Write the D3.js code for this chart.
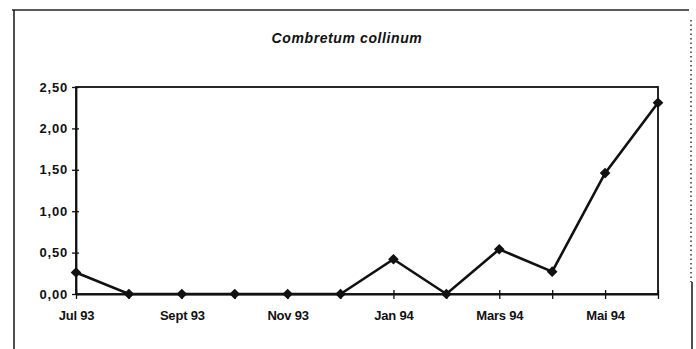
<!DOCTYPE html>
<html>
<head>
<meta charset="utf-8">
<script src="https://cdn.jsdelivr.net/npm/d3@7"></script>
<style>
  body { margin: 0; background: #fff; }
  text { font-family: "Liberation Sans", Arial, sans-serif; fill: #111; }
</style>
</head>
<body>
<div id="plot"></div>
<script>
const width = 696;
const height = 349;

// data
const months = ["Jul", "Aug", "Sep", "Oct", "Nov", "Dec", "Jan", "Feb", "Mar", "Apr", "May", "Jun"];
const values = [0.26, 0, 0, 0, 0, 0, 0.42, 0, 0.54, 0.27, 1.46, 2.31];
const monthLabels = ["Jul 93", "", "Sept 93", "", "Nov 93", "", "Jan 94", "", "Mars 94", "", "Mai 94", ""];
const yTicks = [0, 0.5, 1, 1.5, 2, 2.5];

const svg = d3.select("div#plot")
  .append("svg")
  .attr("width", width)
  .attr("height", height);

// outer frame (scan edge)
svg.append("line").attr("x1", 12).attr("x2", 689).attr("y1", 10).attr("y2", 10)
  .attr("stroke", "#222").attr("stroke-width", 1.6);
svg.append("line").attr("x1", 14).attr("x2", 14).attr("y1", 10).attr("y2", height)
  .attr("stroke", "#222").attr("stroke-width", 1.6);
svg.append("line").attr("x1", 691).attr("x2", 691).attr("y1", 20).attr("y2", 282)
  .attr("stroke", "#333").attr("stroke-width", 1.5).attr("stroke-dasharray", "1.5,3");
svg.append("line").attr("x1", 692).attr("x2", 692).attr("y1", 282).attr("y2", height)
  .attr("stroke", "#222").attr("stroke-width", 1.6);

svg.append("text")
  .attr("x", 347)
  .attr("y", 43)
  .attr("text-anchor", "middle")
  .style("font-size", "14px")
  .style("font-weight", "bold")
  .style("font-style", "italic")
  .style("letter-spacing", "0.6px")
  .text("Combretum collinum");

const margin = { left: 76, right: 658, top: 87, bottom: 294 };

const x = d3.scalePoint()
  .domain(months)
  .range([margin.left, margin.right]);

const y = d3.scaleLinear()
  .domain([0, 2.5])
  .range([margin.bottom, margin.top]);

// plot area border
svg.append("rect")
  .attr("x", margin.left)
  .attr("y", margin.top)
  .attr("width", margin.right - margin.left)
  .attr("height", margin.bottom - margin.top)
  .attr("fill", "none")
  .attr("stroke", "#111")
  .attr("stroke-width", 1.8);

const fmt = d => d.toFixed(2).replace(".", ",");

const yAxis = svg.append("g")
  .attr("transform", `translate(${margin.left},0)`)
  .call(d3.axisLeft(y).tickValues(yTicks).tickFormat(fmt).tickSize(4).tickSizeOuter(0));
yAxis.select(".domain").attr("stroke", "#111").attr("stroke-width", 1.8);
yAxis.selectAll(".tick line").attr("x1", -4).attr("x2", 3).attr("stroke", "#111").attr("stroke-width", 1.3);
yAxis.selectAll(".tick text")
  .attr("x", -8)
  .style("font-size", "13px")
  .style("font-weight", "bold")
  .style("letter-spacing", "0.8px");

const xAxis = svg.append("g")
  .attr("transform", `translate(0,${margin.bottom})`)
  .call(d3.axisBottom(x).tickFormat((d, i) => monthLabels[i]).tickSize(4).tickSizeOuter(0));
xAxis.select(".domain").attr("stroke", "#111").attr("stroke-width", 1.8);
xAxis.selectAll(".tick line").attr("y1", -4).attr("y2", 5).attr("stroke", "#111").attr("stroke-width", 1.3);
xAxis.selectAll(".tick text")
  .attr("y", 17)
  .attr("dy", "0.71em")
  .style("font-size", "13px")
  .style("font-weight", "bold")
  .style("letter-spacing", "-0.2px");

const line = d3.line()
  .x((d, i) => x(months[i]))
  .y(d => y(d));

svg.append("path")
  .datum(values)
  .attr("d", line)
  .attr("fill", "none")
  .attr("stroke", "#111")
  .attr("stroke-width", 2.6);

svg.selectAll(".pt")
  .data(values)
  .enter().append("path")
  .attr("class", "pt")
  .attr("transform", (d, i) => `translate(${x(months[i])},${y(d)})`)
  .attr("d", d3.symbol(d3.symbolDiamond2, 72))
  .attr("fill", "#111");
</script>
</body>
</html>
